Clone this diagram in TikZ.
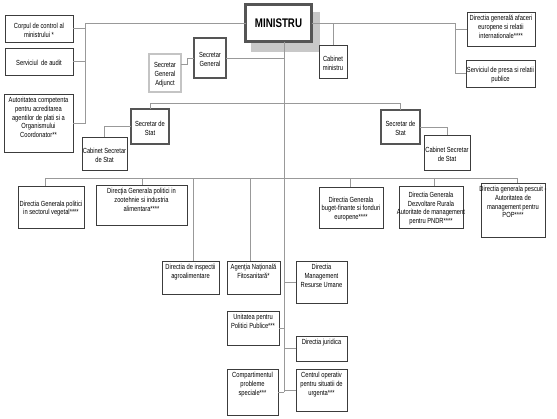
\documentclass[tikz,border=0pt]{standalone}
\usepackage{fontspec}
\setmainfont{Liberation Sans}[FakeStretch=0.78]
\definecolor{bordc}{HTML}{3C3C3C}
\definecolor{thickc}{HTML}{555555}
\definecolor{linec}{HTML}{999999}
\definecolor{lightc}{HTML}{C4C4C4}
\definecolor{shadowc}{HTML}{C8C8C8}
\newcommand\fsm{\fontsize{7.4}{8.8}\selectfont}
\newcommand\wide[1]{\makebox[\linewidth][c]{#1}}
\newcommand\bx[8]{\node[#1] (#2) at (#3,#4) {\parbox[c][#6pt][#7]{#5pt}{\centering\fsm\rule{0pt}{8.4pt}#8}};}
\tikzset{
  bx/.style={draw=bordc, line width=0.9pt, fill=white, inner sep=0pt, outer sep=0pt, anchor=north west},
  thk/.style={bx, draw=thickc, line width=2.6pt},
  lgt/.style={bx, draw=lightc, line width=2.2pt},
  conn/.style={draw=linec, line width=0.8pt},
}
\begin{document}
\begin{tikzpicture}[x=1pt,y=-1pt]
\useasboundingbox[fill=white] (0,0) rectangle (557,418);
% shadow of MINISTRU
\fill[shadowc] (251,12) rectangle (320,52);
\node[thk, line width=3pt] (min) at (245.5,4.5) {\parbox[c][37pt][c]{66pt}{\centering\fontsize{12.5}{14}\selectfont\bfseries MINISTRU}};
% left column
\bx{bx}{corp}{5}{15}{68}{27}{c}{Corpul de control al\\ministrului *}
\bx{bx}{audit}{5}{48}{68}{27}{c}{Serviciul\ \ de audit}
\bx{bx}{autor}{4}{94}{69}{58}{t}{Autoritatea competenta\\pentru acreditarea\\agentilor de plati si a\\Organismului\\Coordonator**}
% secretar general
\bx{thk}{secgen}{194}{38}{32}{40}{c}{Secretar\\General}
\bx{lgt}{adj}{149}{54}{32}{38}{c}{Secretar\\General\\Adjunct}
% right top
\bx{bx}{cabmin}{319}{45}{28}{33}{c}{Cabinet\\ministru}
\bx{bx}{dga}{467}{12}{68}{34}{t}{\rule{0pt}{3pt}Directia generală afaceri\\europene si relatii\\internationale****}
\bx{bx}{presa}{466}{60}{69}{27}{c}{\wide{Serviciul de presa si relatii}\\publice}
% secretari de stat
\bx{thk}{sds1}{131}{109}{38}{35}{c}{Secretar de\\Stat}
\bx{bx}{cab1}{82}{137}{45}{33}{c}{Cabinet Secretar\\de Stat}
\bx{thk}{sds2}{381}{110}{39}{34}{c}{Secretar de\\Stat}
\bx{bx}{cab2}{424}{135}{46}{35}{c}{Cabinet Secretar\\de Stat}
% row of directions
\bx{bx}{v1}{18}{186}{66}{42}{c}{Directia Generala politici\\in sectorul vegetal****}
\bx{bx}{v2}{96}{185}{91}{40}{t}{Direcţia Generala politici in\\zootehnie si industria\\alimentara****}
\bx{bx}{bA}{319}{187}{64}{41}{c}{Directia Generala\\buget-finante si fonduri\\europene****}
\bx{bx}{bB}{399}{186}{64}{42}{c}{Directia Generala\\Dezvoltare Rurala\\\wide{Autoritate de management}\\pentru PNDR****}
\bx{bx}{bC}{481}{183}{64}{54}{t}{\wide{Directia generala pescuit -}\\Autoritatea de\\management pentru\\POP****}
% lower
\bx{bx}{insp}{162}{261}{57}{33}{t}{Directia de inspectii\\agroalimentare}
\bx{bx}{agent}{227}{261}{53}{33}{t}{Agenţia Naţională\\Fitosanitară*}
\bx{bx}{dmru}{296}{261}{51}{42}{t}{Directia\\Management\\Resurse Umane}
\bx{bx}{unit}{227}{311}{52}{34}{t}{Unitatea pentru\\Politici Publice***}
\bx{bx}{jur}{296}{336}{51}{25}{t}{Directia juridica}
\bx{bx}{comp}{227}{369}{51}{46}{t}{\rule{0pt}{3pt}Compartimentul\\probleme\\speciale***}
\bx{bx}{centr}{296}{369}{51}{42}{t}{Centrul operativ\\pentru situatii de\\urgenta***}
% connectors
\coordinate (mvx) at (284,0);
\coordinate (lb) at (85,23);
\coordinate (rb) at (455,23);
\coordinate (mvend) at (284,392);
\draw[conn] (min.south -| mvx) -- (mvend);
\draw[conn] (min.west) -- (lb) -- (lb |- autor.east) -- (autor.east);
\draw[conn] (corp.east) -- (corp.east -| lb);
\draw[conn] (audit.east) -- (audit.east -| lb);
\draw[conn] (min.east) -- (rb) |- (presa.west);
\draw[conn] (dga.west) -- (dga.west -| rb);
\draw[conn] (cabmin.north) -- (cabmin.north |- min.east);
\draw[conn] (secgen.east) -- (secgen.east -| mvx);
\draw[conn] ([yshift=9pt]adj.east) -- ++(6,0) |- (secgen.west);
\draw[conn] (sds1.north) -- ++(0,-6) -| (sds2.north);
\draw[conn] (sds1.west) -| (cab1.north);
\draw[conn] (sds2.east) -| (cab2.north);
\coordinate (r1) at (45,178);
\coordinate (r2) at (142,178);
\coordinate (r3) at (193,178);
\coordinate (r4) at (250,178);
\coordinate (r5) at (350,178);
\coordinate (r6) at (434,178);
\coordinate (r7) at (517,178);
\draw[conn] (r1) -- (r7);
\draw[conn] (r1) -- (r1 |- v1.north);
\draw[conn] (r2) -- (r2 |- v2.north);
\draw[conn] (r3) -- (r3 |- insp.north);
\draw[conn] (r4) -- (r4 |- agent.north);
\draw[conn] (r5) -- (r5 |- bA.north);
\draw[conn] (r6) -- (r6 |- bB.north);
\draw[conn] (r7) -- (r7 |- bC.north);
\draw[conn] (dmru.west) -- (dmru.west -| mvx);
\draw[conn] (unit.east) -- (unit.east -| mvx);
\draw[conn] (jur.west) -- (jur.west -| mvx);
\draw[conn] (comp.east) -- (comp.east -| mvx);
\draw[conn] (centr.west) -- (centr.west -| mvx);
\end{tikzpicture}
\end{document}
